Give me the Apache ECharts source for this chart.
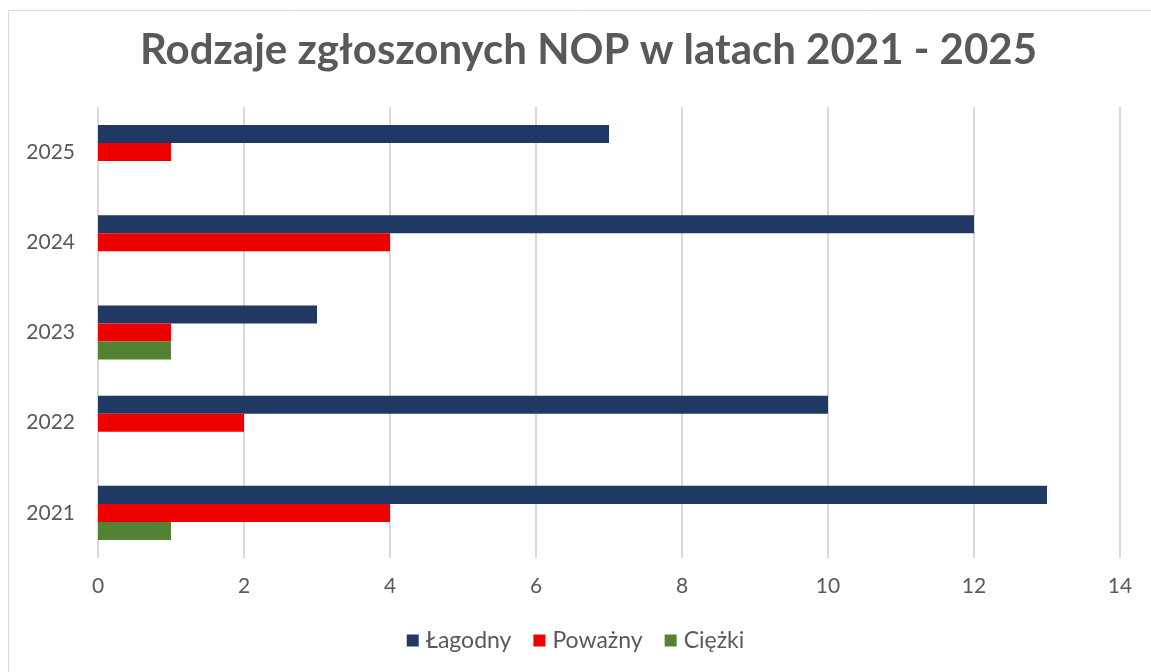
<!DOCTYPE html>
<html>
<head>
<meta charset="utf-8">
<script src="https://cdn.jsdelivr.net/npm/echarts@6/dist/echarts.min.js"></script>
<style>
  html, body { margin: 0; padding: 0; background: #fff; }
  #chart { width: 1151px; height: 672px; }
</style>
</head>
<body>
<div id="chart"></div>
<script>
// dane
const years = ['2021', '2022', '2023', '2024', '2025'];
const lagodny = [13, 10, 3, 12, 7];
const powazny = [4, 2, 1, 4, 1];
const ciezki = [1, 0, 1, 0, 0];
const xTicks = [0, 2, 4, 6, 8, 10, 12, 14];

const chart = echarts.init(document.getElementById('chart'));

const font = 'Lato, "Open Sans", sans-serif';

const option = {
  backgroundColor: '#fff',
  animation: false,
  title: {
    text: 'Rodzaje zgłoszonych NOP w latach 2021 - 2025',
    left: 135,
    top: 24,
    textStyle: {
      fontFamily: font,
      fontSize: 42,
      fontWeight: 'bold',
      color: '#595959'
    }
  },
  graphic: [{
    type: 'rect',
    shape: { x: 8.5, y: 10.5, width: 1200, height: 700 },
    style: { fill: 'none', stroke: '#d9d9d9', lineWidth: 1 },
    silent: true
  }],
  legend: {
    bottom: 15,
    left: 'center',
    itemWidth: 12,
    itemHeight: 12,
    itemGap: 22,
    icon: 'rect',
    textStyle: { fontFamily: font, fontSize: 23, color: '#595959', padding: [0, 0, 0, 2] },
    data: ['Łagodny', 'Poważny', 'Ciężki']
  },
  grid: {
    left: 98,
    right: 31,
    top: 107,
    bottom: 114
  },
  xAxis: {
    type: 'value',
    min: xTicks[0],
    max: xTicks[xTicks.length - 1],
    interval: 2,
    axisLine: { show: false },
    axisTick: { show: false },
    axisLabel: { fontFamily: font, fontSize: 21, color: '#595959', margin: 18 },
    splitLine: { lineStyle: { color: '#d9d9d9', width: 2 } }
  },
  yAxis: {
    type: 'category',
    data: years,
    axisLine: { show: false },
    axisTick: { show: false },
    axisLabel: { fontFamily: font, fontSize: 21, color: '#595959', margin: 23 }
  },
  series: [
    {
      name: 'Łagodny',
      type: 'bar',
      data: lagodny,
      barGap: '0%',
      barCategoryGap: '40%',
      itemStyle: { color: '#203864' }
    },
    {
      name: 'Poważny',
      type: 'bar',
      data: powazny,
      itemStyle: { color: '#ee0000' }
    },
    {
      name: 'Ciężki',
      type: 'bar',
      data: ciezki,
      itemStyle: { color: '#548235' }
    }
  ]
};

chart.setOption(option);
</script>
</body>
</html>
